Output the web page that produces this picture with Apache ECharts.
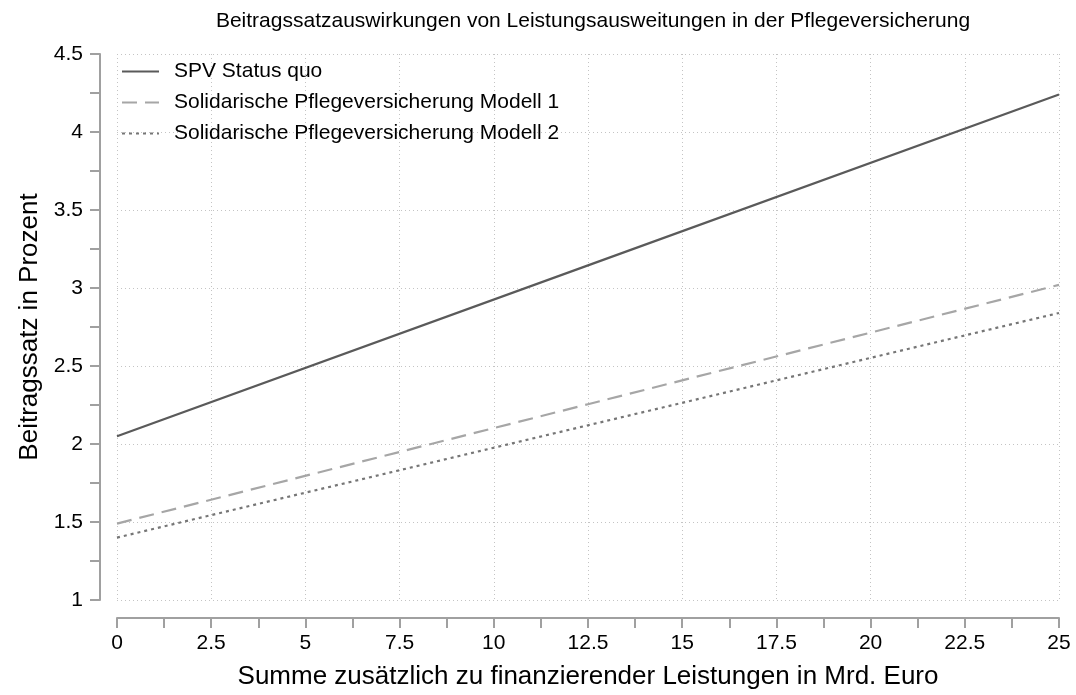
<!DOCTYPE html>
<html>
<head>
    <meta charset="UTF-8">
    <title>Beitragssatzauswirkungen</title>
    <script src="https://cdn.jsdelivr.net/npm/echarts@6/dist/echarts.min.js"></script>
    <style>
        html, body { margin: 0; padding: 0; background: #fff; }
        #chart { width: 1076px; height: 695px; }
    </style>
</head>
<body>
<div id="chart"></div>
<script>
    // Summe zusaetzlicher Leistungen (Mrd. Euro)
    var leistungen = [0, 12.5, 25];
    // Beitragssatz in Prozent
    var spvStatusQuo = [2.05, 3.145, 4.24];
    var modell1 = [1.49, 2.255, 3.02];
    var modell2 = [1.40, 2.12, 2.84];
    var seriesNames = ['SPV Status quo', 'Solidarische Pflegeversicherung Modell 1', 'Solidarische Pflegeversicherung Modell 2'];

    function pairs(xs, ys) {
        var out = [];
        for (var i = 0; i < xs.length; i++) out.push([xs[i], ys[i]]);
        return out;
    }

    var font = '"Liberation Sans", Arial, sans-serif';
    var axisGray = '#a0a0a0';
    var gridLine = { show: true, lineStyle: { color: '#c4c4c4', width: 1, type: [1, 3] } };

    var chart = echarts.init(document.getElementById('chart'));
    var option = {
        backgroundColor: '#fff',
        animation: false,
        textStyle: { fontFamily: font, color: '#000' },
        title: {
            text: 'Beitragssatzauswirkungen von Leistungsausweitungen in der Pflegeversicherung',
            left: 588,
            textAlign: 'center',
            top: 6,
            textStyle: { fontFamily: font, fontSize: 21, fontWeight: 'normal', color: '#000' }
        },
        legend: {
            orient: 'vertical',
            left: 121,
            top: 61,
            padding: 0,
            itemWidth: 37,
            itemHeight: 14,
            itemGap: 10,
            data: seriesNames,
            itemStyle: { opacity: 0 },
            textStyle: { fontFamily: font, fontSize: 21, color: '#000', padding: [0, 0, 0, 10] }
        },
        grid: { left: 117, right: 17, top: 54, bottom: 93 },
        xAxis: {
            type: 'value',
            min: 0,
            max: 25,
            interval: 2.5,
            offset: 18,
            name: 'Summe zusätzlich zu finanzierender Leistungen in Mrd. Euro',
            nameLocation: 'middle',
            nameGap: 46,
            nameTextStyle: { fontFamily: font, fontSize: 26, color: '#000' },
            axisLine: { show: true, onZero: false, lineStyle: { color: axisGray, width: 2 } },
            axisTick: { show: true, length: 10, lineStyle: { color: axisGray, width: 2 } },
            minorTick: { show: true, splitNumber: 2, length: 10, lineStyle: { color: axisGray, width: 2 } },
            axisLabel: { fontFamily: font, fontSize: 21, color: '#000', margin: 15 },
            splitLine: gridLine
        },
        yAxis: {
            type: 'value',
            min: 1,
            max: 4.5,
            interval: 0.5,
            offset: 17,
            name: 'Beitragssatz in Prozent',
            nameLocation: 'middle',
            nameGap: 57,
            nameTextStyle: { fontFamily: font, fontSize: 26, color: '#000' },
            axisLine: { show: true, onZero: false, lineStyle: { color: axisGray, width: 2 } },
            axisTick: { show: true, length: 10, lineStyle: { color: axisGray, width: 2 } },
            minorTick: { show: true, splitNumber: 2, length: 10, lineStyle: { color: axisGray, width: 2 } },
            axisLabel: { fontFamily: font, fontSize: 21, color: '#000', margin: 17 },
            splitLine: gridLine
        },
        series: [
            {
                name: seriesNames[0],
                type: 'line',
                symbol: 'none',
                data: pairs(leistungen, spvStatusQuo),
                lineStyle: { color: '#5a5a5a', width: 2.2, type: 'solid' },
                itemStyle: { color: '#5a5a5a' }
            },
            {
                name: seriesNames[1],
                type: 'line',
                symbol: 'none',
                data: pairs(leistungen, modell1),
                lineStyle: { color: '#a6a6a6', width: 2.2, type: [15, 8] },
                itemStyle: { color: '#a6a6a6' }
            },
            {
                name: seriesNames[2],
                type: 'line',
                symbol: 'none',
                data: pairs(leistungen, modell2),
                lineStyle: { color: '#767676', width: 2.2, type: [3, 4] },
                itemStyle: { color: '#767676' }
            }
        ]
    };

    chart.setOption(option);
</script>
</body>
</html>
